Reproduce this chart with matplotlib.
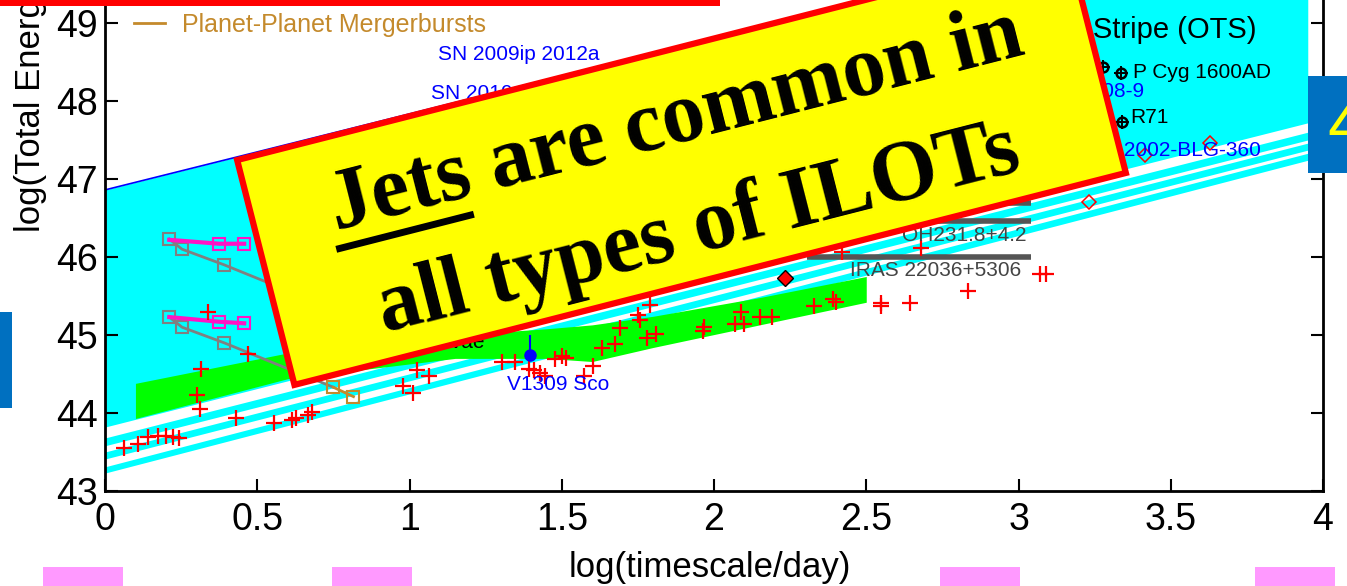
import matplotlib
matplotlib.use("Agg")
import matplotlib.pyplot as plt
from matplotlib.patches import Rectangle
from matplotlib.lines import Line2D
from matplotlib.transforms import Affine2D
from matplotlib.ticker import FuncFormatter
import numpy as np

W, H = 1347, 586
plt.rcParams["font.family"] = ["Liberation Sans", "DejaVu Sans"]

# ---------------- data ----------------
# Optical Transient Stripe: edges given at the two ends of the time range
band_x = [0.0, 3.95]
ots_upper = [46.86, 50.71]          # blue upper boundary
ots_lower = [43.82, 47.72]          # lower boundary of the main stripe
stripe_top_left = [43.68, 43.50, 43.31]
stripe_bot_left = [43.58, 43.41, 43.23]
stripe_top_right = [47.60, 47.46, 47.33]
stripe_bot_right = [47.50, 47.37, 47.24]

# green region
green_x = [0.10, 0.60, 1.15, 1.45, 1.60, 1.80, 2.15, 2.50]
green_bottom = [43.93, 44.44, 44.70, 44.70, 44.66, 44.84, 45.13, 45.42]
green_top = [44.38, 44.77, 45.00, 45.08, 45.13, 45.24, 45.48, 45.75]

# ILOT events (red crosses)
ilot_x = [0.063, 0.109, 0.141, 0.174, 0.201, 0.224, 0.243, 0.303, 0.313, 0.316,
          0.339, 0.431, 0.470, 0.556, 0.615, 0.628, 0.668, 0.681, 0.980, 1.013,
          1.023, 1.063, 1.303, 1.345, 1.391, 1.408, 1.428, 1.444, 1.477, 1.500,
          1.513, 1.572, 1.602, 1.632, 1.674, 1.691, 1.750, 1.757, 1.780, 1.790,
          1.810, 1.964, 1.967, 2.070, 2.090, 2.100, 2.150, 2.190, 2.330, 2.390,
          2.400, 2.420, 2.550, 2.550, 2.645, 2.680, 2.835, 3.070, 3.090]
ilot_y = [43.55, 43.60, 43.69, 43.71, 43.70, 43.69, 43.68, 44.23, 44.05, 44.56,
          45.29, 43.94, 44.76, 43.87, 43.91, 43.93, 43.97, 44.01, 44.35, 44.25,
          44.55, 44.47, 44.65, 44.66, 44.57, 44.55, 44.51, 44.48, 44.69, 44.73,
          44.71, 44.48, 44.60, 44.83, 44.88, 45.09, 45.26, 45.19, 44.96, 45.38,
          45.01, 45.05, 45.10, 45.14, 45.30, 45.14, 45.23, 45.23, 45.37, 45.46,
          45.42, 46.06, 45.41, 45.37, 45.41, 46.11, 45.56, 45.78, 45.78]

# planet-planet merger tracks
merger_x = [0.211, 0.253, 0.391, 0.750, 0.816]
merger_low = [45.23, 45.10, 44.90, 44.33, 44.21]
merger_high = [46.23, 46.10, 45.90, 45.33, 45.21]
jet_x = [0.211, 0.375, 0.457]
jet_low = [45.23, 45.17, 45.15]
jet_high = [46.22, 46.17, 46.17]

# pre-planetary nebulae (horizontal bars)
pn_y = [46.69, 46.46, 46.00]
pn_x0, pn_x1 = 2.306, 3.04

# individual objects
v1309_x, v1309_y, v1309_err = 1.395, 44.74, 0.26
lbv_x = [3.276, 3.336, 3.339]
lbv_y = [48.44, 48.36, 47.73]
diamond_open_x = [3.23, 3.414, 3.628]
diamond_open_y = [46.71, 47.31, 47.46]
diamond_fill_x, diamond_fill_y = 2.234, 45.73

# text labels: (x, y, text, color, size, ha)
labels = [
    (1.095, 48.59, "SN 2009ip 2012a", "#0000FF", 15, "left"),
    (1.07, 48.10, "SN 2010", "#0000FF", 15, "left"),
    (1.319, 44.36, "V1309 Sco", "#0000FF", 15, "left"),
    (1.247, 44.90, "Luminous Red Novae", "black", 15, "right"),
    (2.618, 46.28, "OH231.8+4.2", "#444444", 15, "left"),
    (2.447, 45.83, "IRAS 22036+5306", "#444444", 15, "left"),
    (3.375, 48.36, "P Cyg 1600AD", "black", 15, "left"),
    (3.368, 47.79, "R71", "black", 15, "left"),
    (3.414, 48.12, "2008-9", "#0000FF", 15, "right"),
    (3.796, 47.37, "OGLE-2002-BLG-360", "#0000FF", 15, "right"),
    (3.78, 48.91, "Optical Transient Stripe (OTS)", "black", 21, "right"),
]

x_ticks = [0, 0.5, 1, 1.5, 2, 2.5, 3, 3.5, 4]
y_ticks = [43, 44, 45, 46, 47, 48, 49]

gold = "#C48A2C"
magenta = "#FF14C4"
gray = "#808080"

# ---------------- figure ----------------
fig = plt.figure(figsize=(W / 100, H / 100), dpi=100)
fig.patch.set_facecolor("white")

# axes frame in pixel units: x 105..1323, y=43 at row 491, 78 px per decade
ax = fig.add_axes([105 / W, (H - 491) / H, 1218 / W, 546 / H])
ax.set_xlim(0, 4)
ax.set_ylim(43, 50)

bx = np.array(band_x)
ax.fill_between(bx, ots_lower, ots_upper, color="#00FFFF", lw=0, zorder=1)
for tl, bl, tr, br in zip(stripe_top_left, stripe_bot_left,
                          stripe_top_right, stripe_bot_right):
    ax.fill_between(bx, [bl, br], [tl, tr], color="#00FFFF", lw=0, zorder=1)
ax.plot(bx, ots_upper, color="#0000FF", lw=1.2, zorder=2)

ax.fill_between(green_x, green_bottom, green_top, color="#00FF00", lw=0, zorder=2)

ax.hlines(pn_y, pn_x0, pn_x1, color="#555555", lw=4, zorder=3)

for ys, js in ((merger_low, jet_low), (merger_high, jet_high)):
    ax.plot(merger_x[:4], ys[:4], color=gray, lw=2, zorder=3)
    ax.plot(merger_x[:3], ys[:3], "s", mfc="none", mec=gray, ms=9, mew=1.5, zorder=4)
    ax.plot(merger_x[3:], ys[3:], "-s", color=gold, mfc="none", mec=gold,
            ms=9, mew=1.5, lw=2, zorder=4)
    ax.plot(jet_x, js, color=magenta, lw=3, zorder=4)
    ax.plot(jet_x[1:], js[1:], "s", mfc="none", mec=magenta, ms=9, mew=1.5, zorder=4)

ax.plot(ilot_x, ilot_y, "+", color="red", ms=12, mew=1.6, ls="none", zorder=5)

ax.errorbar([v1309_x], [v1309_y], yerr=[[0], [v1309_err]], fmt="o", color="#0000FF",
            ms=8, capsize=0, elinewidth=1.5, zorder=6)
ax.plot(lbv_x, lbv_y, "o", mfc="none", mec="black", ms=7, mew=1.8, ls="none", zorder=6)
ax.plot(lbv_x, lbv_y, "+", color="black", ms=10, mew=1.4, ls="none", zorder=6)
ax.plot(diamond_open_x, diamond_open_y, "D", mfc="none", mec="red", ms=7, mew=1.1,
        ls="none", zorder=6)
ax.plot([diamond_fill_x], [diamond_fill_y], "D", mfc="red", mec="black", ms=8, mew=1,
        zorder=6)

for x, y, s, c, fs, ha in labels:
    ax.text(x, y, s, color=c, fontsize=fs, ha=ha, va="center", zorder=7)

leg_handle = Line2D([], [], color=gold, lw=2)
ax.legend([leg_handle], ["Planet-Planet Mergerbursts"], loc="center left",
          bbox_to_anchor=((134 - 105) / 1218, (491 - 25) / 546), frameon=False,
          handlelength=1.25, handletextpad=0.65, borderpad=0, borderaxespad=0,
          fontsize=18, labelcolor=gold)

ax.set_xticks(x_ticks)
ax.set_yticks(y_ticks)
fmt = FuncFormatter(lambda v, p: f"{v:g}")
ax.xaxis.set_major_formatter(fmt)
ax.yaxis.set_major_formatter(fmt)
ax.tick_params(direction="in", length=9, width=1.5, top=True, right=True,
               labelsize=27, colors="black")
ax.tick_params(axis="x", pad=8)
ax.tick_params(axis="y", pad=5)
for sp in ax.spines.values():
    sp.set_linewidth(2)
    sp.set_color("black")

ax.set_xlabel("log(timescale/day)", fontsize=25, va="baseline")
ax.xaxis.set_label_coords(0.4967, (491 - 577) / 546)
ax.set_ylabel("log(Total Energy/erg)", fontsize=25, rotation=90,
              rotation_mode="anchor", ha="left", va="baseline")
ax.yaxis.set_label_coords((40 - 105) / 1218, (491 - 232) / 546)

# ---------------- slide overlay ----------------
pix = Affine2D().scale(1 / W, -1 / H).translate(0, 1) + fig.transFigure


def slide_rect(x, y, w, h, color):
    fig.add_artist(Rectangle((x, y), w, h, transform=pix, facecolor=color,
                             edgecolor="none", zorder=20))


slide_rect(0, 0, 720, 5.5, "#FF0000")
slide_rect(0, 312, 12, 96, "#0070C0")
slide_rect(1308, 76, 39, 97, "#0070C0")
for px0 in (43, 332, 940, 1255):
    slide_rect(px0, 567, 80, 19, "#FF99FF")
fig.text(1327, 128, "4", transform=pix, color="#FFFF00", fontsize=50,
         ha="left", va="center", zorder=21)

theta = 14.3
box_tr = Affine2D().rotate_deg(theta).translate(681.5, H - 166.5).scale(1 / W, 1 / H) \
    + fig.transFigure
fig.add_artist(Rectangle((-429, -116), 858, 232, transform=box_tr, facecolor="#FFFF00",
                         edgecolor="#FF0000", lw=4.5, zorder=30))
serif = dict(family=["Liberation Serif", "DejaVu Serif"], fontweight="bold",
             fontsize=62, rotation=theta, rotation_mode="anchor", ha="center",
             va="baseline", color="black", zorder=31)
fig.text(6, 24, "Jets are common in", transform=box_tr, **serif)
fig.text(1, -88, "all types of ILOTs", transform=box_tr, **serif)
fig.add_artist(Line2D([-355, -213], [5, 5], transform=box_tr, color="black", lw=5,
                      solid_capstyle="butt", zorder=31))

fig.savefig("out.png", dpi=100)
